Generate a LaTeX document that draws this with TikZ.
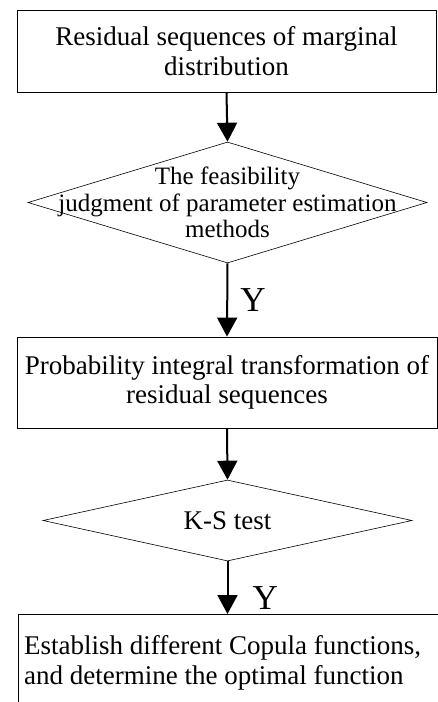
\documentclass[tikz,border=0pt]{standalone}
\usepackage{fontspec}
\setmainfont{Liberation Serif}
\usepackage{tikz}
\usetikzlibrary{
  arrows.meta,
  positioning,
  shapes.geometric,
}

\begin{document}
\begin{tikzpicture}[
    x=1pt, y=-1pt,
    txt/.style={align=center, font=\fontsize{27}{29.5}\selectfont},
    stepbox/.style={draw, line width=0.8pt, inner sep=0pt, txt},
    dia/.style={diamond, draw, line width=0.6pt, inner sep=0pt},
    flow/.style={line width=2pt, -{Triangle[width=20pt,length=19pt]}},
    yes/.style={font=\fontsize{35}{35}\selectfont, inner sep=0pt},
  ]
  \useasboundingbox (0,0) rectangle (438,702);
  \clip (0,0) rectangle (438,702);

  % boxes and decisions
  \node[stepbox, minimum width=419pt, minimum height=82pt] (resid) at (226.5,51)
    {Residual sequences of marginal\\distribution};
  \node[dia, minimum width=399pt, minimum height=121pt,
        label={[txt, font=\fontsize{25}{26.5}\selectfont]center:The feasibility\\judgment of parameter estimation\\methods}]
    (feas) at (227.5,202.5) {};
  \node[stepbox, minimum width=420pt, minimum height=91pt] (pit) at (227,382.5)
    {Probability integral transformation of\\residual sequences};
  \node[dia, minimum width=369pt, minimum height=81pt,
        label={[txt]center:K-S test}] (ks) at (227.5,520.5) {};
  \node[stepbox, minimum width=432pt, minimum height=120pt, anchor=north west] (copula) at (18,614) {};
  \node[txt, align=left, anchor=west, inner sep=0pt] (coptext) at (24,663)
    {Establish different Copula functions,\\and determine the optimal function};

  % connectors
  \draw[flow] (resid.south) -- (feas.north);
  \draw[flow] (feas.south) -- node[yes, right=12pt] (y1) {Y} (pit.north);
  \draw[flow] (pit.south) -- (ks.north);
  \draw[flow] (ks.south) -- node[yes, right=24pt, pos=0.7] (y2) {Y} (copula.north -| ks.south);
\end{tikzpicture}
\end{document}
